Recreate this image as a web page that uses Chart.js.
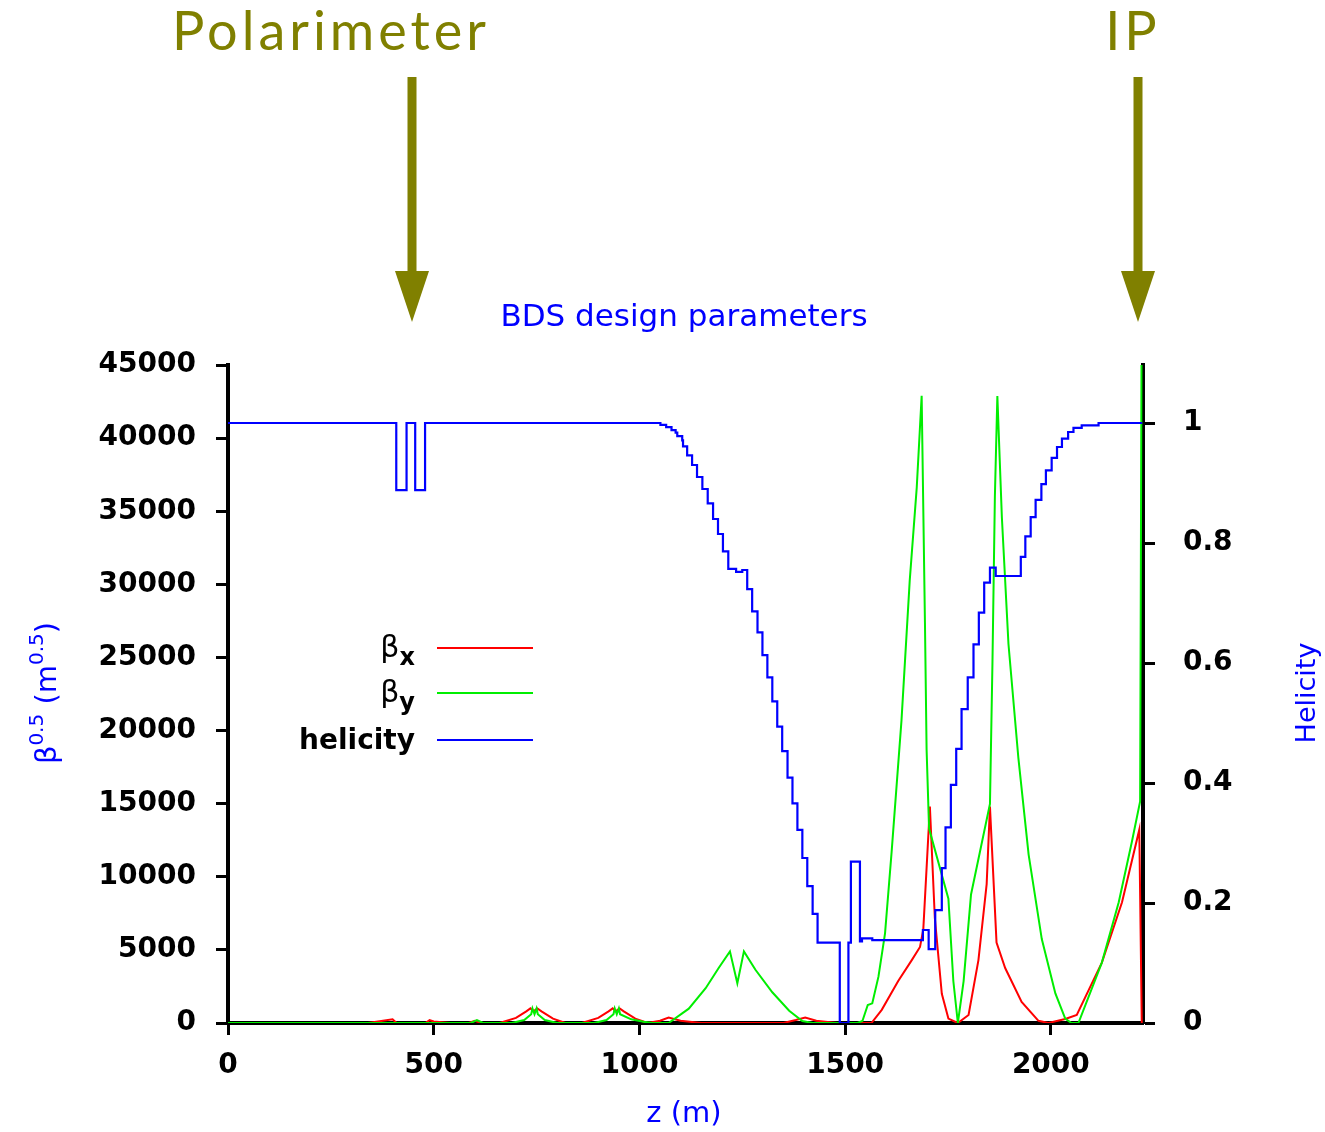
<!DOCTYPE html>
<html>
<head>
<meta charset="utf-8">
<title>BDS design parameters</title>
<script src="https://cdn.jsdelivr.net/npm/chart.js@4.4.1/dist/chart.umd.min.js"></script>
<style>
  html, body { margin: 0; padding: 0; background: #fff; }
  canvas { display: block; }
</style>
</head>
<body>
<canvas id="bds" width="1325" height="1132"></canvas>
<script>
// ---- Achsen ----
const zMax      = 2224;
const betaMax   = 45000;
const helMax    = 1.0967;
const zTicks    = [0, 500, 1000, 1500, 2000];
const betaTicks = [0, 5000, 10000, 15000, 20000, 25000, 30000, 35000, 40000, 45000];
const helTicks  = [0, 0.2, 0.4, 0.6, 0.8, 1];

// ---- beta_x (rot) ----
const betaXz = [0, 340, 400, 410, 480, 490, 500, 540, 585, 600, 615, 660, 700, 725, 735, 742, 752, 762, 790, 820,
                860, 900, 925, 935, 942, 952, 962, 990, 1020, 1050, 1071, 1100, 1150, 1350, 1380, 1403, 1430, 1480,
                1564, 1589, 1629, 1662, 1682, 1690, 1706, 1718, 1735, 1751, 1774, 1800, 1824, 1844, 1852, 1868, 1889,
                1929, 1970, 1994, 2035, 2063, 2124, 2173, 2215, 2221];
const betaXv = [0, 0, 250, 0, 0, 200, 100, 0, 0, 150, 0, 0, 350, 800, 1000, 800, 1000, 800, 300, 0,
                0, 350, 800, 1000, 800, 1000, 800, 300, 0, 150, 380, 150, 0, 0, 200, 380, 150, 0,
                0, 900, 2870, 4300, 5200, 6400, 14800, 7200, 2000, 300, 0, 550, 4300, 9500, 14800, 5500, 3760,
                1440, 150, 0, 275, 550, 4130, 8260, 13220, 0];

// ---- beta_y (gruen) ----
const betaYz = [0, 590, 605, 620, 690, 720, 737, 740, 745, 750, 753, 770, 800, 890, 920, 937, 940, 945, 950, 953,
                980, 1010, 1031, 1071, 1120, 1161, 1193, 1220, 1238, 1254, 1282, 1323, 1364, 1396, 1420, 1530, 1542,
                1555, 1566, 1581, 1597, 1613, 1637, 1657, 1674, 1686, 1694, 1698, 1704, 1751, 1763, 1774, 1788, 1806,
                1852, 1858, 1864, 1870, 1881, 1897, 1921, 1946, 1978, 2011, 2035, 2050, 2067, 2124, 2165, 2197, 2217, 2222];
const betaYv = [0, 0, 200, 0, 0, 200, 600, 1000, 600, 1000, 600, 200, 0, 0, 200, 600, 1000, 600, 1000, 600,
                250, 80, 0, 0, 980, 2380, 3780, 4900, 2720, 4900, 3640, 2100, 840, 140, 0, 0, 140,
                1230, 1345, 3170, 6130, 11700, 20700, 30250, 36600, 42900, 27400, 18700, 13300, 8500, 2870, 0, 2870, 8790,
                14980, 24480, 36040, 42880, 34570, 25920, 18150, 11520, 5740, 2020, 300, 0, 0, 4130, 8260, 12400, 15150, 60000];

// ---- Helizitaet (blau, Treppe: bei z springt der Wert auf h) ----
const helZ = [0, 409, 434, 455, 479, 1051, 1065, 1078, 1088, 1092, 1104, 1106, 1116, 1128, 1140, 1153, 1166, 1179,
              1191, 1203, 1216, 1235, 1250, 1262, 1274, 1287, 1299, 1311, 1323, 1335, 1347, 1360, 1372, 1384, 1396,
              1408, 1421, 1433, 1487, 1508, 1514, 1536, 1541, 1566, 1689, 1703, 1719, 1735, 1744, 1757, 1770, 1783,
              1798, 1812, 1825, 1838, 1852, 1866, 1927, 1938, 1951, 1963, 1977, 1988, 2002, 2015, 2027, 2042, 2055,
              2075, 2116, 2222];
const helV = [1, 0.888, 1, 0.888, 1, 0.997, 0.993, 0.988, 0.984, 0.978, 0.971, 0.961, 0.946, 0.930, 0.910, 0.890, 0.866, 0.840,
              0.815, 0.786, 0.757, 0.752, 0.755, 0.723, 0.686, 0.651, 0.613, 0.576, 0.536, 0.494, 0.453, 0.409, 0.366, 0.322, 0.275,
              0.228, 0.182, 0.134, 0, 0.134, 0.269, 0.136, 0.141, 0.138, 0.155, 0.123, 0.188, 0.258, 0.326, 0.397, 0.457, 0.523,
              0.576, 0.631, 0.684, 0.734, 0.759, 0.745, 0.777, 0.811, 0.843, 0.872, 0.898, 0.921, 0.942, 0.960, 0.974, 0.985, 0.992,
              0.996, 1.0, 1.0];

// ---- Markierungen oben ----
const markerNames = ["Polarimeter", "IP"];
const markerZ     = [447, 2211];

const BLUE  = "#0000ff";
const OLIVE = "#808000";
const zip = (xs, ys) => xs.map((x, i) => ({ x, y: ys[i] }));

// Hilfsfunktion: Text aus Stuecken (fuer Hoch-/Tiefstellung)
function drawParts(c, parts, x, y, align){
  let w = 0;
  parts.forEach(p => { c.font = p.font; w += c.measureText(p.t).width; });
  let cx = align === "right" ? x - w : align === "center" ? x - w / 2 : x;
  c.textAlign = "left";
  c.textBaseline = "alphabetic";
  parts.forEach(p => {
    c.font = p.font;
    c.fillText(p.t, cx, y + (p.dy || 0));
    cx += c.measureText(p.t).width;
  });
}

const extras = {
  id: "extras",
  afterDraw(chart){
    const c  = chart.ctx;
    const xs = chart.scales.x;
    c.save();

    // Titel + Achsentitel
    c.fillStyle = BLUE;
    c.textAlign = "center";
    c.textBaseline = "middle";
    c.font = '31px "DejaVu Sans"';
    c.fillText("BDS design parameters", 684, 318);
    c.font = '29px "DejaVu Sans"';
    c.fillText("z (m)", 684, 1114);

    c.save();
    c.translate(1308, 693);
    c.rotate(-Math.PI / 2);
    c.font = '27px "DejaVu Sans"';
    c.fillText("Helicity", 0, 0);
    c.restore();

    c.save();
    c.translate(56, 693);
    c.rotate(-Math.PI / 2);
    const big = '29px "DejaVu Sans"', sup = '20px "DejaVu Sans"';
    drawParts(c, [
      { t: "\u03b2", font: big },
      { t: "0.5", font: sup, dy: -13 },
      { t: " (m", font: big },
      { t: "0.5", font: sup, dy: -13 },
      { t: ")", font: big }
    ], 0, 0, "center");
    c.restore();

    // Legende
    const ds = chart.data.datasets;
    const rows = [
      { y: 648, ds: ds[1], parts: [{ t: "\u03b2", font: '30px "DejaVu Sans"' }, { t: "x", font: 'bold 24px "DejaVu Sans"', dy: 8 }] },
      { y: 693, ds: ds[2], parts: [{ t: "\u03b2", font: '30px "DejaVu Sans"' }, { t: "y", font: 'bold 24px "DejaVu Sans"', dy: 8 }] },
      { y: 740, ds: ds[0], parts: [{ t: "helicity", font: 'bold 28px "DejaVu Sans"' }] }
    ];
    rows.forEach(r => {
      c.fillStyle = "#000";
      drawParts(c, r.parts, 415, r.y + 9, "right");
      c.strokeStyle = r.ds.borderColor;
      c.lineWidth = 2;
      c.beginPath();
      c.moveTo(437, r.y);
      c.lineTo(533, r.y);
      c.stroke();
    });

    // Pfeile mit Beschriftung
    const labelShift = [-81, -5];
    c.fillStyle = OLIVE;
    markerNames.forEach((name, i) => {
      const px = Math.round(xs.getPixelForValue(markerZ[i]));
      c.fillRect(px - 4.5, 77, 9, 196);
      c.beginPath();
      c.moveTo(px - 17, 271);
      c.lineTo(px + 17, 271);
      c.lineTo(px, 322);
      c.closePath();
      c.fill();
      c.font = '400 54px "Lato"';
      c.letterSpacing = "4px";
      c.textAlign = "center";
      c.textBaseline = "alphabetic";
      c.fillText(name, px + labelShift[i], 50);
    });

    c.restore();
  }
};

const tickFont = { family: "DejaVu Sans", weight: "bold", size: 28 };
const gridOpts = { display: true, drawOnChartArea: false, drawTicks: true, tickLength: 12, tickWidth: 3, tickColor: "#000" };
const border   = { display: true, color: "#000", width: 4 };

new Chart(document.getElementById("bds"), {
  type: "line",
  data: {
    datasets: [
      { label: "helicity", data: zip(helZ, helV), yAxisID: "yh", borderColor: BLUE, borderWidth: 2.2,
        stepped: "before", pointRadius: 0, order: 0 },
      { label: "beta_x", data: zip(betaXz, betaXv), yAxisID: "y", borderColor: "#ff0000", borderWidth: 2,
        pointRadius: 0, tension: 0, order: 2 },
      { label: "beta_y", data: zip(betaYz, betaYv), yAxisID: "y", borderColor: "#00ee00", borderWidth: 2,
        pointRadius: 0, tension: 0, order: 1 }
    ]
  },
  options: {
    responsive: false,
    animation: false,
    layout: { padding: { top: 365 } },
    plugins: { legend: { display: false }, tooltip: { enabled: false } },
    scales: {
      x: {
        type: "linear", min: 0, max: zMax,
        afterBuildTicks: s => { s.ticks = zTicks.map(v => ({ value: v })); },
        afterFit: s => { s.height = 109; },
        ticks: { font: tickFont, color: "#000", padding: 14, maxRotation: 0, callback: v => String(v) },
        grid: gridOpts, border
      },
      y: {
        position: "left", min: 0, max: betaMax,
        afterBuildTicks: s => { s.ticks = betaTicks.map(v => ({ value: v })); },
        afterFit: s => { s.width = 228; },
        ticks: { font: tickFont, color: "#000", padding: 20, callback: v => String(v) },
        grid: gridOpts, border
      },
      yh: {
        position: "right", min: 0, max: helMax,
        afterBuildTicks: s => { s.ticks = helTicks.map(v => ({ value: v })); },
        afterFit: s => { s.width = 182; },
        ticks: { font: tickFont, color: "#000", padding: 28, callback: v => String(+v.toFixed(1)) },
        grid: gridOpts, border
      }
    }
  },
  plugins: [extras]
});
</script>
</body>
</html>
